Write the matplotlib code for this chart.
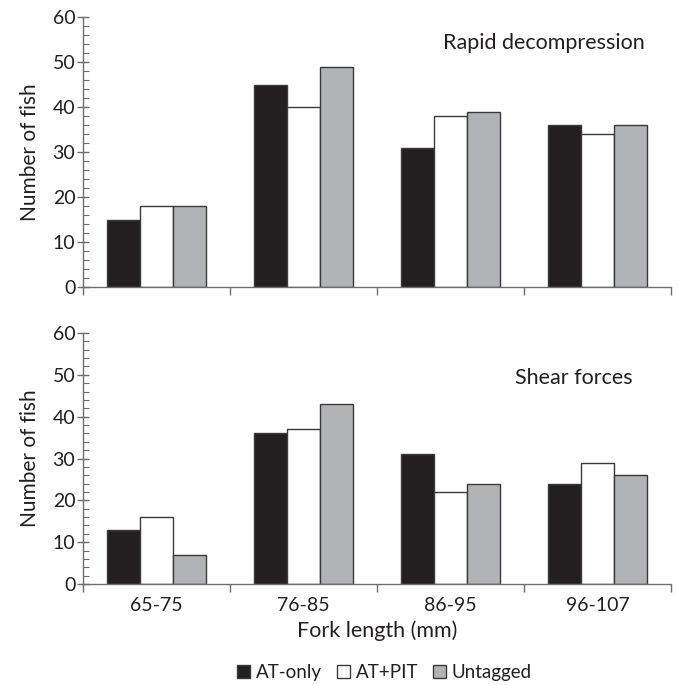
import matplotlib
matplotlib.use("Agg")
import matplotlib.pyplot as plt
from matplotlib.ticker import MultipleLocator, FixedLocator
import numpy as np

plt.rcParams.update({
    "font.family": ["Lato", "DejaVu Sans"],
    "text.color": "#231f20",
    "axes.labelcolor": "#231f20",
    "xtick.color": "#6d6e71",
    "ytick.color": "#6d6e71",
    "xtick.labelcolor": "#231f20",
    "ytick.labelcolor": "#231f20",
})

categories = ["65-75", "76-85", "86-95", "96-107"]
series = ["AT-only", "AT+PIT", "Untagged"]
colors = ["#231f20", "#ffffff", "#b1b3b6"]

rapid = {
    "AT-only": [15, 45, 31, 36],
    "AT+PIT": [18, 40, 38, 34],
    "Untagged": [18, 49, 39, 36],
}
shear = {
    "AT-only": [13, 36, 31, 24],
    "AT+PIT": [16, 37, 22, 29],
    "Untagged": [7, 43, 24, 26],
}

fig = plt.figure(figsize=(6.78, 6.85), dpi=100)
ax1 = fig.add_axes([0.1224, 0.581, 0.8673, 0.394])
ax2 = fig.add_axes([0.1224, 0.1474, 0.8673, 0.3665])

x = np.arange(len(categories))
w = 0.225


def panel(ax, data, title, tx, ty):
    bars = []
    for i, s in enumerate(series):
        b = ax.bar(x + (i - 1) * w, data[s], w, color=colors[i],
                   edgecolor="#3a3a3a", linewidth=1.0, label=s, zorder=2)
        bars.append(b)
    ax.set_xlim(-0.5, 3.5)
    ax.set_ylim(0, 60)
    ax.yaxis.set_major_locator(MultipleLocator(10))
    ax.yaxis.set_minor_locator(MultipleLocator(2))
    ax.tick_params(axis="y", which="major", direction="inout", length=9,
                   width=1, labelsize=14, pad=1)
    ax.tick_params(axis="y", which="minor", direction="in", length=4, width=0.8)
    ax.xaxis.set_major_locator(FixedLocator(x))
    ax.xaxis.set_minor_locator(FixedLocator(np.arange(-0.5, 4, 1.0)))
    ax.tick_params(axis="x", which="major", length=0, labelsize=14, pad=9)
    ax.tick_params(axis="x", which="minor", direction="out", length=6, width=1)
    for sp in ["top", "right"]:
        ax.spines[sp].set_visible(False)
    for sp in ["left", "bottom"]:
        ax.spines[sp].set_color("#6d6e71")
        ax.spines[sp].set_linewidth(1.0)
    ax.set_ylabel("Number of fish", fontsize=15, labelpad=9)
    ax.text(tx, ty, title, transform=ax.transAxes, fontsize=15.5,
            ha="center", va="center")
    return bars


panel(ax1, rapid, "Rapid decompression", 0.783, 0.905)
ax1.set_xticklabels([])
bars = panel(ax2, shear, "Shear forces", 0.834, 0.82)
ax2.set_xticklabels(categories)
ax2.set_xlabel("Fork length (mm)", fontsize=15.5, labelpad=5)

fig.legend(bars, series, loc="center", bbox_to_anchor=(0.567, 0.018),
           ncol=3, frameon=False, fontsize=13.5, handlelength=0.7,
           handleheight=0.7, handletextpad=0.3, columnspacing=0.8)

fig.savefig("out.png", dpi=100)
